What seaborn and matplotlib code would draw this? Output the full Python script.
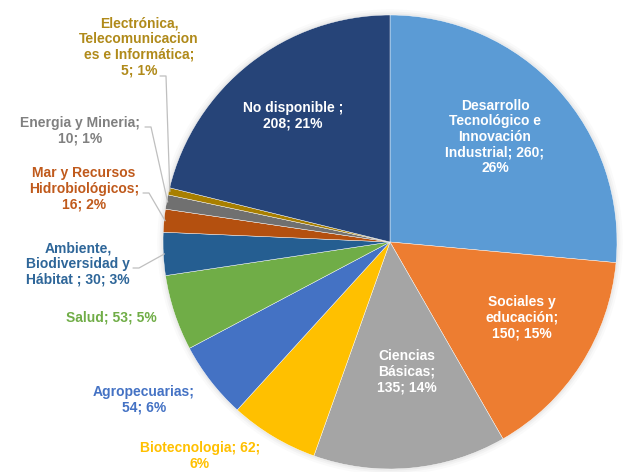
import matplotlib
matplotlib.use("Agg")
import matplotlib.pyplot as plt
import matplotlib.patches as mpatches
import seaborn as sns
import numpy as np

# data
categories = [
    "Desarrollo\nTecnológico e\nInnovación\nIndustrial; 260;\n26%",
    "Sociales y\neducación;\n150; 15%",
    "Ciencias\nBásicas;\n135; 14%",
    "Biotecnologia; 62;\n6%",
    "Agropecuarias;\n54; 6%",
    "Salud; 53; 5%",
    "Ambiente,\nBiodiversidad y\nHábitat ; 30; 3%",
    "Mar y Recursos\nHidrobiológicos;\n16; 2%",
    "Energia y Mineria;\n10; 1%",
    "Electrónica,\nTelecomunicacion\nes e Informática;\n5; 1%",
    "No disponible ;\n208; 21%",
]
counts = [260, 150, 135, 62, 54, 53, 30, 16, 10, 5, 208]
slice_colors = ["#5B9BD5", "#ED7D31", "#A5A5A5", "#FFC000", "#4472C4", "#70AD47",
                "#255E91", "#B4500F", "#707070", "#A87F00", "#264478"]
text_colors = ["white", "white", "white", "#FFC000", "#4472C4", "#70AD47",
               "#2E6699", "#C05A1C", "#808080", "#B08A1A", "white"]

# label placement in image pixels (x, y), plus whether it gets a leader line
W, H = 630, 472
CX, CY, R = 390, 242, 227
label_px = [(495, 137), (522, 318), (407, 372), (200, 456), (144, 400), (111, 318),
            (78, 264), (84, 189), (80, 131), (139, 47), (293, 116)]
leader = [False, False, False, False, False, False, True, True, True, True, False]
anchor_px = {6: (133, 268), 7: (143, 193), 8: (145, 127), 9: (160, 76)}


def to_data(px, py):
    return (px - CX) / R, (CY - py) / R


sns.set_theme(style="white")
plt.rcParams['font.family'] = ['Liberation Sans', 'DejaVu Sans']

fig = plt.figure(figsize=(W / 100, H / 100), dpi=100)
ax = fig.add_axes([0, 0, 1, 1])

# soft glow around the pie
for r, a in [(1.025, 0.04), (1.015, 0.06), (1.007, 0.08)]:
    ax.add_patch(mpatches.Circle((0, 0), r, color="#888888", alpha=a, lw=0, zorder=0))

palette = sns.color_palette(slice_colors)
wedges, _ = ax.pie(counts, colors=palette, startangle=90, counterclock=False,
                   radius=1.0, wedgeprops=dict(linewidth=0.3, edgecolor="white"))

# pie() resets the limits, so set them afterwards
ax.set_aspect('auto')
ax.set_xlim(-CX / R, (W - CX) / R)
ax.set_ylim(-(H - CY) / R, CY / R)
ax.axis('off')

for i, w in enumerate(wedges):
    x, y = to_data(*label_px[i])
    ax.text(x, y, categories[i], ha='center', va='center', color=text_colors[i],
            fontsize=10, fontweight='bold', linespacing=1.15, zorder=5)
    if leader[i]:
        mid = np.deg2rad((w.theta1 + w.theta2) / 2)
        ex, ey = 0.995 * np.cos(mid), 0.995 * np.sin(mid)
        axp, ayp = anchor_px[i]
        x0, y0 = to_data(axp, ayp)
        x1, y1 = to_data(axp + 6, ayp)
        ax.plot([x0, x1, ex], [y0, y0, ey], color="#BFBFBF", lw=0.9, zorder=4)

fig.savefig("out.png", dpi=100)
